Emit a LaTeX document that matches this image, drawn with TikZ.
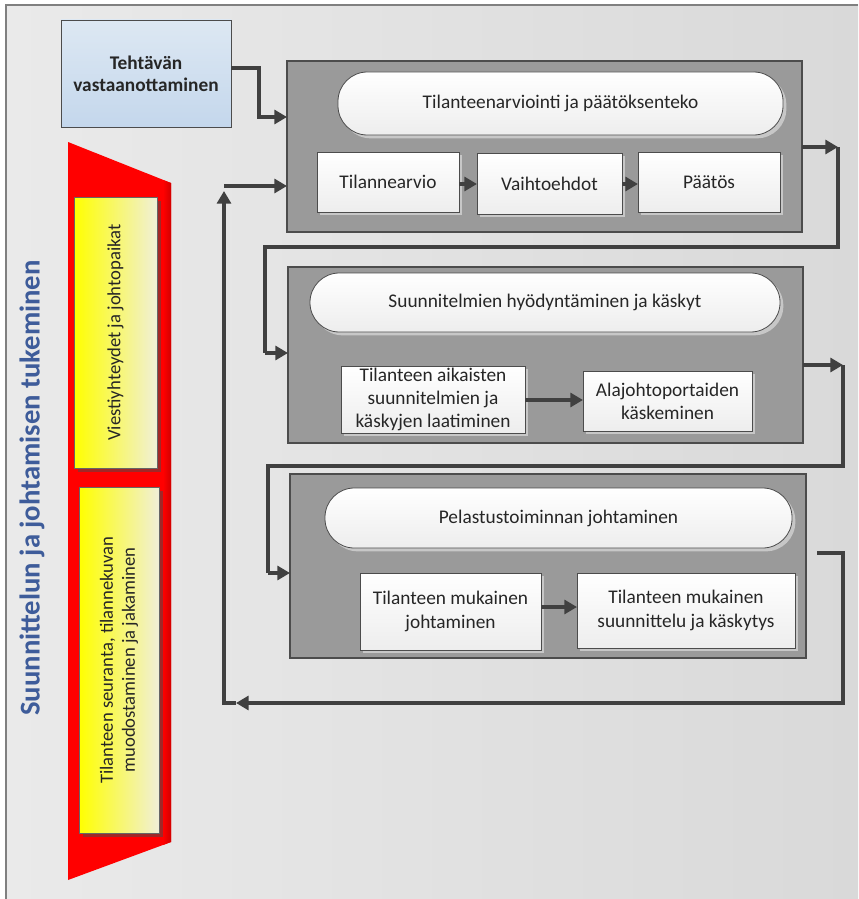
\documentclass[tikz,border=0pt]{standalone}
\usepackage{fontspec}
\setmainfont{Carlito}
\usetikzlibrary{shadows,arrows.meta}
\definecolor{arrowc}{HTML}{404040}
\definecolor{bgl}{HTML}{EAEAEA}
\definecolor{bgr}{HTML}{D9D9D9}
\definecolor{grpfill}{HTML}{9A9A9A}
\definecolor{titleblue}{HTML}{3E5C9A}
\definecolor{bluetop}{HTML}{DDE8F3}
\definecolor{bluebot}{HTML}{C4D7EC}
\definecolor{cream}{HTML}{F0EFD8}
\definecolor{darkred}{HTML}{A02828}
\tikzset{
  wh/.style 2 args={minimum width=#1*0.75pt, minimum height=#2*0.75pt},
  txt/.style={font=\fontsize{14.5}{17.4}\selectfont, text=black!85},
  grp/.style={draw=black!70, fill=grpfill, line width=0.8pt, inner sep=0pt, outer sep=0pt},
  ibox/.style={draw=black!70, line width=0.6pt, top color=white, bottom color=black!7,
    inner sep=0pt, outer sep=0pt, align=center, txt,
    drop shadow={shadow xshift=2.5pt, shadow yshift=-2.5pt, fill=black!22, opacity=1}},
  pill/.style={ibox, rounded corners=22pt},
  ybox/.style={draw=black!60, line width=0.6pt, left color=yellow, right color=cream,
    inner sep=0pt, outer sep=0pt,
    drop shadow={shadow xshift=3pt, shadow yshift=-3pt, fill=darkred, opacity=1}},
  arr/.style={draw=arrowc, line width=2.3pt, -{Triangle[length=9.5pt,width=10.5pt]}},
  ln/.style={draw=arrowc, line width=2.3pt},
}
\begin{document}
\begin{tikzpicture}[x=0.75pt,y=-0.75pt]
\useasboundingbox (0,0) rectangle (858,899);
% background frame
\shade[left color=bgl, right color=bgr] (6,5) rectangle (858,899);
\draw[black!50, line width=1.3pt] (6,899) -- (6,5) -- (858,5);

% title
\node[rotate=90, font=\bfseries\fontsize{21.5}{25}\selectfont, text=titleblue] (title) at (32,488) {Suunnittelun ja johtamisen tukeminen};

% red trapezoid
\fill[red] (68,142) -- (171,183) -- (171,842) -- (68,880) -- cycle;
\shade[left color=red, right color=red!82!black] (163,180) -- (171,183) -- (171,842) -- (163,845) -- cycle;
\node[ybox, wh={83}{271}] (y1) at (115.5,332.5) {};
\node[rotate=90, font=\fontsize{14}{16.5}\selectfont, text=black!85] (y1t) at (y1.center) {Viestiyhteydet ja johtopaikat};
\node[ybox, wh={80}{346}] (y2) at (119,660) {};
\node[rotate=90, align=center, font=\fontsize{14}{16.5}\selectfont, text=black!85] (y2t) at (y2.center) {Tilanteen seuranta, tilannekuvan\\muodostaminen ja jakaminen};

% start box
\node[draw=black!70, line width=0.6pt, top color=bluetop, bottom color=bluebot, inner sep=0pt,
  align=center, font=\bfseries\fontsize{14.5}{16.5}\selectfont, text=black!85,
  wh={170}{107}] (start) at (146,73.5) {Tehtävän\\vastaanottaminen};

% group 1
\node[grp, wh={515}{171}] (g1) at (544.5,146.5) {};
\node[pill, wh={445}{63}] (p1) at (560.5,103.5) {Tilanteenarviointi ja päätöksenteko};
\node[ibox, wh={142}{60}] (t1) at (388,182) {Tilannearvio};
\node[ibox, wh={145}{61}] (t2) at (549.5,183.5) {Vaihtoehdot};
\node[ibox, wh={142}{60}] (t3) at (709,182) {Päätös};
\draw[arr] (t1.east |- 0,184) -- (t2.west |- 0,184);
\draw[arr] (t2.east |- 0,184) -- (t3.west |- 0,184);

% group 2
\node[grp, wh={515}{176}] (g2) at (545.5,355) {};
\node[pill, wh={470}{59}] (p2) at (545,302.5) {Suunnitelmien hyödyntäminen ja käskyt};
\node[ibox, wh={184}{67}] (b1) at (433,399.5) {Tilanteen aikaisten\\suunnitelmien ja\\käskyjen laatiminen};
\node[ibox, wh={169}{60}] (b2) at (667.5,401) {Alajohtoportaiden\\käskeminen};
\draw[arr] (b1.east |- 0,400) -- (b2.west |- 0,400);

% group 3
\node[grp, wh={516}{184}] (g3) at (548,566) {};
\node[pill, wh={467}{60}] (p3) at (558.5,518) {Pelastustoiminnan johtaminen};
\node[ibox, wh={181}{77}] (c1) at (450.5,611.5) {Tilanteen mukainen\\johtaminen};
\node[ibox, wh={218}{75}] (c2) at (686,610.5) {Tilanteen mukainen\\suunnittelu ja käskytys};
\draw[arr] (c1.east |- 0,607) -- (c2.west |- 0,607);

% connectors
\draw[arr] (start.east |- 0,68) -- (259,68) -- (259,117) -- (g1.west |- 0,117);

\coordinate (r1) at (838,147);
\draw[arr] (g1.east |- r1) -- (r1);
\draw[ln] (r1) -- (838,247) -- (265,247) -- (265,353);
\draw[arr] (265,353) -- (g2.west |- 0,353);

\coordinate (r2) at (843,365);
\draw[arr] (g2.east |- r2) -- (r2);
\draw[ln] (r2) -- (843,466) -- (268,466) -- (268,573);
\draw[arr] (268,573) -- (g3.west |- 0,573);

\coordinate (x3) at (817,553);
\coordinate (bl) at (236,703);
\draw[arr] (x3) -- (843,553) -- (843,703) -- (bl);
\draw[arr] (bl) -- (224,703) -- (224,191);
\draw[arr] (224,186) -- (g1.west |- 0,186);
\end{tikzpicture}
\end{document}
